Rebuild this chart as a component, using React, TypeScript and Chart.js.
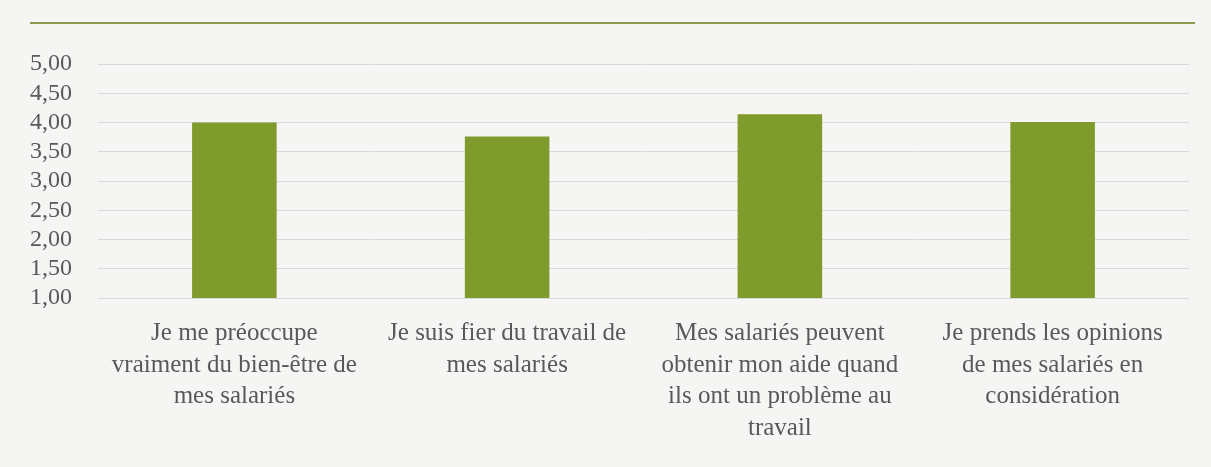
import React, { useEffect, useRef } from "react";
import { Chart, registerables } from "chart.js";

Chart.register(...registerables);

const categories: string[][] = [
  ["Je me préoccupe", "vraiment du bien-être de", "mes salariés"],
  ["Je suis fier du travail de", "mes salariés"],
  ["Mes salariés peuvent", "obtenir mon aide quand", "ils ont un problème au", "travail"],
  ["Je prends les opinions", "de mes salariés en", "considération"],
];
const values: number[] = [4.0, 3.76, 4.14, 4.01];
const yMin = 1;
const yMax = 5;
const yStep = 0.5;

const FONT = "'Liberation Serif', 'DejaVu Serif', serif";

export default function App() {
  const ref = useRef<HTMLCanvasElement | null>(null);
  useEffect(() => {
    if (!ref.current) return;
    const chart = new Chart(ref.current, {
      type: "bar",
      data: {
        labels: categories,
        datasets: [
          {
            data: values,
            backgroundColor: "#7f9b2b",
            borderWidth: 0,
            barPercentage: 0.62,
            categoryPercentage: 0.5,
          },
        ],
      },
      options: {
        responsive: false,
        animation: false,
        maintainAspectRatio: false,
        layout: { padding: { top: 64, right: 22, bottom: 0, left: 0 } },
        plugins: { legend: { display: false }, tooltip: { enabled: false } },
        scales: {
          y: {
            min: yMin,
            max: yMax,
            ticks: {
              stepSize: yStep,
              autoSkip: false,
              padding: 26,
              color: "#595959",
              font: { family: FONT, size: 24, lineHeight: 1.0 },
              callback: (v: any) => Number(v).toFixed(2).replace(".", ","),
            },
            grid: { color: "#d9d9d9", lineWidth: 1, drawTicks: false },
            border: { display: false },
            afterFit: (s: any) => {
              s.width = 98;
            },
          },
          x: {
            ticks: {
              padding: 20,
              color: "#595959",
              font: { family: FONT, size: 25, lineHeight: 1.26 },
              maxRotation: 0,
              autoSkip: false,
            },
            grid: { display: false, drawTicks: false },
            border: { display: false },
            afterFit: (s: any) => {
              s.height = 467 - 298;
            },
          },
        },
      },
    });
    return () => chart.destroy();
  }, []);
  return (
    <div
      style={{
        position: "absolute",
        left: 0,
        top: 0,
        width: 1211,
        height: 467,
        background: "#f5f5f3",
      }}
    >
      <div
        style={{
          position: "absolute",
          left: 30,
          top: 22,
          width: 1165,
          height: 2,
          background: "#8c9c55",
        }}
      />
      <canvas ref={ref} width={1211} height={467} style={{ position: "absolute", left: 0, top: 0 }} />
    </div>
  );
}
